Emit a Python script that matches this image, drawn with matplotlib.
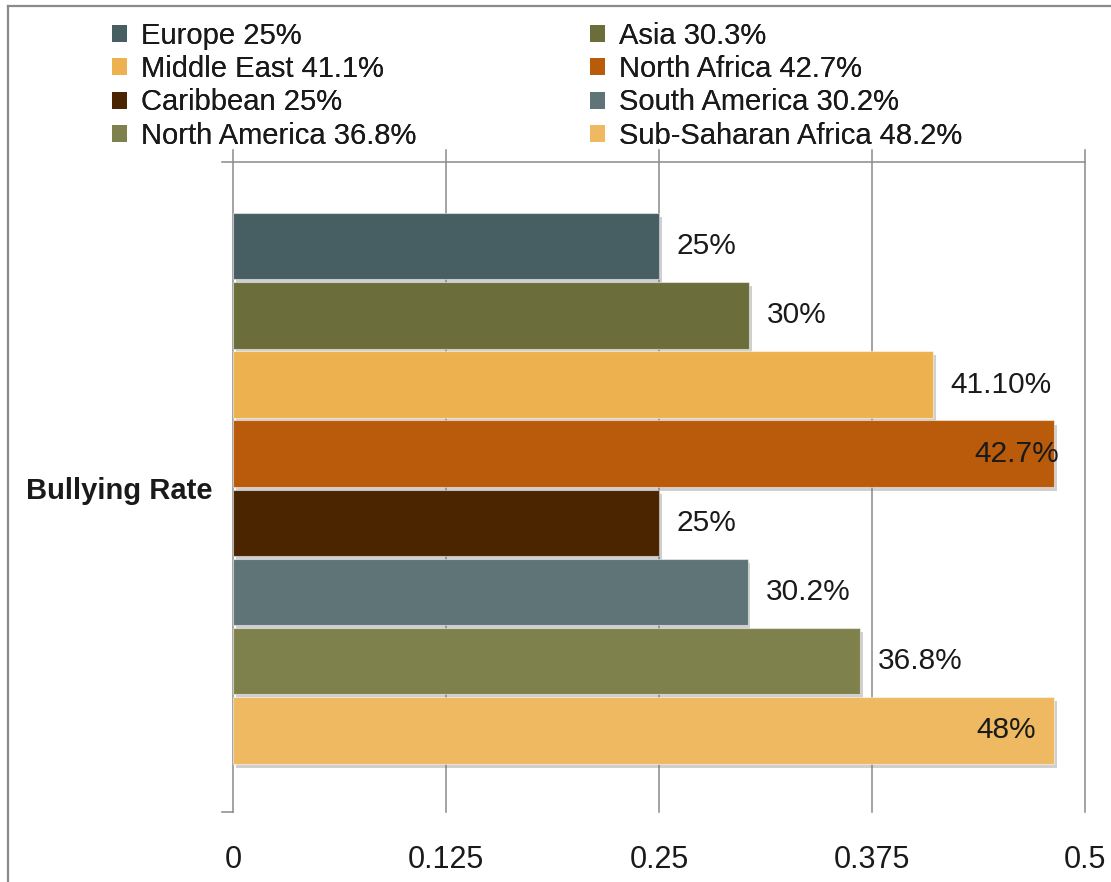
import matplotlib
matplotlib.use('Agg')
import matplotlib.pyplot as plt
import matplotlib.patheffects as pe
from matplotlib.patches import Patch
from matplotlib.lines import Line2D

# series (top to bottom), the drawn bar lengths and their printed labels
regions = ['Europe', 'Asia', 'Middle East', 'North Africa',
           'Caribbean', 'South America', 'North America', 'Sub-Saharan Africa']
rates = [0.25, 0.303, 0.411, 0.482, 0.25, 0.302, 0.368, 0.482]
bar_labels = ['25%', '30%', '41.10%', '42.7%', '25%', '30.2%', '36.8%', '48%']
legend_pcts = ['25%', '30.3%', '41.1%', '42.7%', '25%', '30.2%', '36.8%', '48.2%']
category = 'Bullying Rate'
xticks = [0, 0.125, 0.25, 0.375, 0.5]
xtick_labels = ['0', '0.125', '0.25', '0.375', '0.5']

colors = ['#475e62', '#6b6d3a', '#eeb14f', '#b95b0b',
          '#4a2500', '#5e7476', '#7f814d', '#efb961']
# label offset in pixels from bar end (negative = inside the bar)
label_pad = [18, 18, 17, 18, 18, 18, 18, 18]
inside = [False, False, False, True, False, False, False, True]
inside_pad = [0, 0, 0, 5, 0, 0, 0, -18]

plt.rcParams['font.family'] = ['Liberation Sans', 'DejaVu Sans']
grey = '#8a8a8a'
txt = '#1a1a1a'

W, H = 1111, 882
fig = plt.figure(figsize=(W / 100, H / 100), dpi=100)
ax = fig.add_axes([233 / W, 1 - 812 / H, (1085 - 233) / W, (812 - 150) / H])

ys = list(range(len(regions)))
bars = ax.barh(ys, rates, height=0.96, color=colors, zorder=3,
               edgecolor=(1, 1, 1, 0.5), linewidth=0.8)
for b in bars:
    b.set_path_effects([pe.SimplePatchShadow(offset=(2, -3), shadow_rgbFace='#777777', alpha=0.35),
                        pe.Normal()])

for i, (b, lab) in enumerate(zip(bars, bar_labels)):
    yc = b.get_y() + b.get_height() / 2
    if inside[i]:
        ax.annotate(lab, (b.get_width(), yc), xytext=(inside_pad[i] * 0.72, 0),
                    textcoords='offset points', ha='right', va='center',
                    fontsize=21.5, color=txt, zorder=5)
    else:
        ax.annotate(lab, (b.get_width(), yc), xytext=(label_pad[i] * 0.72, 0),
                    textcoords='offset points', ha='left', va='center',
                    fontsize=21.5, color=txt, zorder=5)

ax.set_xlim(0, 0.5)
ax.set_ylim(8.18, -1.39)
ax.set_xticks(xticks)
ax.set_xticklabels(xtick_labels, fontsize=22, color=txt)
ax.set_yticks([3.5])
ax.set_yticklabels([category], fontsize=21, fontweight='bold', color=txt)
ax.tick_params(axis='x', length=0, pad=24)
ax.tick_params(axis='y', length=0, pad=15)
for s in ax.spines.values():
    s.set_visible(False)
ax.grid(axis='x', color=grey, linewidth=1.1, zorder=1)
ax.set_axisbelow(True)
for gl in ax.get_xgridlines():
    gl.set_clip_on(False)

# top rule and bottom-left tick
ax.plot([-0.013, 1], [0.982, 0.982], transform=ax.transAxes, color=grey,
        linewidth=1.1, clip_on=False, zorder=1)
ax.plot([-0.013, 0], [0, 0], transform=ax.transAxes, color=grey,
        linewidth=1.1, clip_on=False, zorder=1)

# legends: two columns, row-major order
handles = [Patch(facecolor=c) for c in colors]
names = [f'{r} {p}' for r, p in zip(regions, legend_pcts)]
for col, x0 in [(0, 112), (1, 590)]:
    idx = list(range(col, len(regions), 2))
    leg = fig.legend([handles[i] for i in idx], [names[i] for i in idx],
                     loc='upper left', bbox_to_anchor=(x0 / W, 1 - 22 / H),
                     frameon=False, fontsize=21, labelspacing=0.18,
                     handlelength=0.52, handleheight=0.52, handletextpad=0.48,
                     borderpad=0, borderaxespad=0, labelcolor=txt)
    fig.add_artist(leg)

# figure border (top and left)
fig.add_artist(Line2D([8 / W, 1], [1 - 6 / H, 1 - 6 / H], color=grey, linewidth=1.6))
fig.add_artist(Line2D([8 / W, 8 / W], [0, 1 - 6 / H], color=grey, linewidth=1.6))

fig.savefig('out.png', dpi=100)
